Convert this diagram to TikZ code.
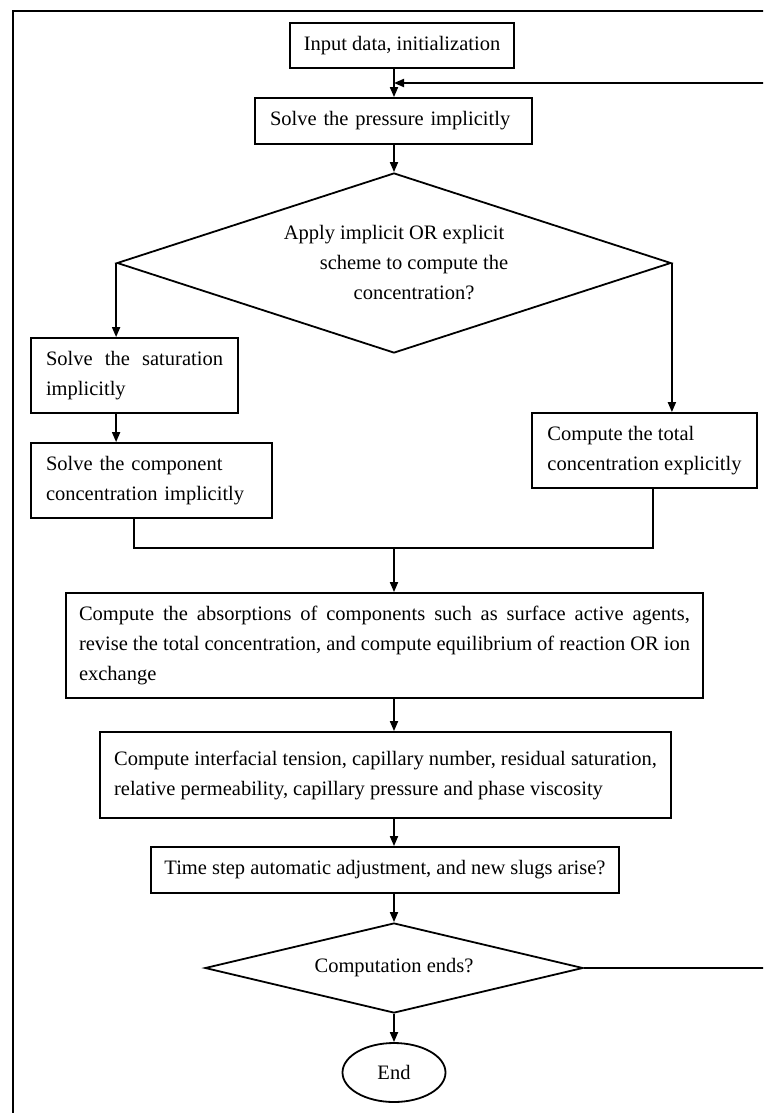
\documentclass[tikz,border=0pt]{standalone}
\usepackage{fontspec}
\setmainfont{Liberation Serif}
\usetikzlibrary{shapes.geometric,arrows.meta}

\begin{document}
\begin{tikzpicture}[x=1pt,y=-1pt,line width=1.8pt,
  font=\fontsize{20.5}{30}\selectfont,
  stage/.style={draw, inner xsep=15pt, inner ysep=0pt, align=left},
  choice/.style={draw, diamond, aspect=3, inner sep=0pt, align=center},
  flow/.style={-{Triangle[length=10pt,width=8pt]}}]

  \useasboundingbox (0,0) rectangle (763,1113);
  \clip (0,0) rectangle (763,1113);
  \draw (13,11) rectangle (820,1160);

  \coordinate (spine) at (394,0);
  \node[stage, align=center, inner xsep=0pt, minimum width=224pt, minimum height=45pt] (init) at (402,45.5) {Input data, initialization};
  \node[stage, text width=247pt, minimum height=46pt] (press) at (393.5,121) {Solve the pressure implicitly};
  \node[choice, minimum width=554pt, minimum height=180pt] (scheme) at (394,263)
    {Apply implicit OR explicit\\\hspace*{40pt}scheme to compute the\\\hspace*{40pt}concentration?};
  \node[stage, text width=177pt, align=justify, minimum height=75pt] (sat) at (134.5,375.5) {Solve the saturation\linebreak implicitly};
  \node[stage, text width=211pt, minimum height=75pt] (comp) at (151.5,480.5) {Solve the component\\concentration implicitly};
  \node[stage, inner xsep=0pt, minimum width=225pt, minimum height=75pt] (total) at (644.5,450.5) {Compute the total\\concentration explicitly};
  \node[stage, text width=611pt, inner xsep=13pt, align=justify, minimum height=105pt] (absorb) at (384.5,645.5)
    {Compute the absorptions of components such as surface active agents,\linebreak revise the total concentration, and compute equilibrium of reaction OR ion\linebreak exchange};
  \node[stage, inner xsep=0pt, minimum width=571pt, minimum height=86pt] (visc) at (385.5,775)
    {Compute interfacial tension, capillary number, residual saturation,\\relative permeability, capillary pressure and phase viscosity};
  \node[stage, align=center, inner xsep=0pt, minimum width=468pt, minimum height=46pt] (dt) at (385,870) {Time step automatic adjustment, and new slugs arise?};
  \node[choice, minimum width=378pt, minimum height=90pt] (stop) at (394,968) {Computation ends?};
  \node[draw, ellipse, inner sep=0pt, minimum width=103pt, minimum height=59pt] (fin) at (394,1072.5) {End};

  \draw[flow] (init.south -| spine) -- (press.north -| spine);
  \draw[flow] (press.south -| spine) -- (scheme.north);
  \draw[flow] (scheme.west) -- (scheme.west |- sat.north);
  \draw[flow] (sat.south -| scheme.west) -- (comp.north -| scheme.west);
  \draw[flow] (scheme.east) -- (scheme.east |- total.north);

  \coordinate (merge) at (394,548);
  \draw ([xshift=-17.5pt]comp.south) |- (merge) -| ([xshift=8.5pt]total.south);
  \draw[flow] (merge) -- (absorb.north -| spine);
  \draw[flow] (absorb.south -| spine) -- (visc.north -| spine);
  \draw[flow] (visc.south -| spine) -- (dt.north -| spine);
  \draw[flow] (dt.south -| spine) -- (stop.north);
  \draw[flow] (stop.south) -- (fin.north);

  \coordinate (back) at (820,83);
  \draw[flow] (stop.east) -| (back) -- (back -| spine);
\end{tikzpicture}
\end{document}
